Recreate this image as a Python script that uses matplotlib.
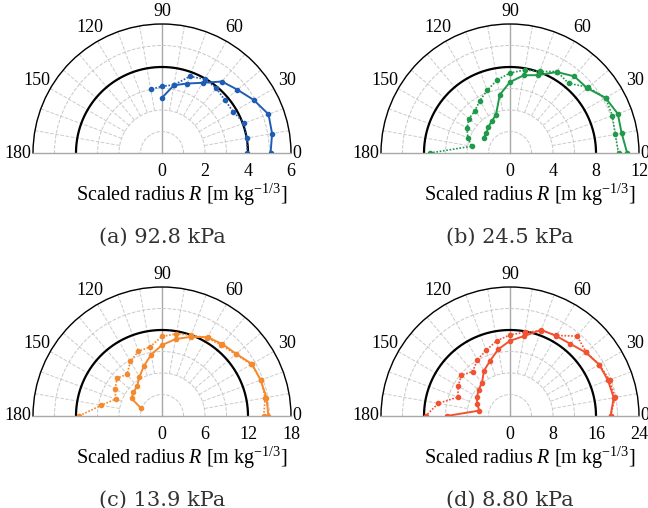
import numpy as np
import matplotlib.pyplot as plt

plt.rcParams['font.family'] = 'Liberation Serif'
plt.rcParams['mathtext.fontset'] = 'custom'
plt.rcParams['mathtext.rm'] = 'Liberation Serif'
plt.rcParams['mathtext.it'] = 'Liberation Serif:italic'

# (a) 92.8 kPa
ang_a_solid = [0, 10, 20, 30, 40, 50, 60, 70, 80, 90]
r_a_solid = [5.05, 5.2, 5.27, 4.93, 4.58, 4.34, 3.77, 3.44, 3.2, 2.57]
ang_a_dot = [0, 10, 20, 30, 40, 50, 60, 70, 80, 90, 100]
r_a_dot = [3.97, 4.0, 4.07, 3.83, 3.82, 3.93, 3.97, 3.79, 3.22, 3.1, 3.01]

# (b) 24.5 kPa
ang_b_solid = [0, 10, 20, 30, 40, 50, 60, 70, 80, 90, 100, 110, 120, 130, 140, 150]
r_b_solid = [10.9, 10.55, 10.67, 10.26, 9.38, 9.31, 8.7, 7.71, 7.34, 6.6, 5.5, 3.8, 3.4, 3.15, 2.86, 2.84]
ang_b_dot = [0, 10, 20, 30, 40, 50, 60, 70, 80, 90, 100, 110, 120, 130, 140, 150, 160, 170, 180]
r_b_dot = [10.1, 9.93, 10.14, 10.26, 9.5, 8.47, 8.75, 8.07, 7.85, 7.44, 6.9, 6.2, 5.62, 5.1, 4.98, 4.62, 4.17, 3.62, 7.45]

# (c) 13.9 kPa
ang_c_solid = [0, 10, 20, 30, 40, 50, 60, 70, 80, 90, 100, 110, 120, 130, 140, 150, 160]
r_c_solid = [14.85, 14.8, 14.65, 14.5, 13.5, 13.1, 12.7, 11.75, 10.9, 9.9, 8.7, 7.4, 6.3, 5.4, 5.2, 4.9, 3.1]
ang_c_dot = [0, 10, 20, 30, 40, 50, 60, 70, 80, 90, 100, 110, 120, 130, 140, 150, 160, 170, 180]
r_c_dot = [14.2, 14.6, 14.7, 14.4, 13.4, 12.9, 12.6, 12.0, 11.65, 11.1, 9.78, 9.6, 8.8, 7.6, 8.2, 7.55, 6.9, 8.6, 11.6]

# (d) 8.80 kPa
ang_d_solid = [0, 10, 20, 30, 40, 50, 60, 70, 80, 90, 100, 110, 120, 130, 140, 150, 160, 170, 180]
r_d_solid = [18.7, 19.6, 19.4, 19.15, 18.4, 17.5, 17.2, 17.05, 15.1, 14.0, 12.6, 10.9, 9.7, 8.1, 7.6, 7.1, 6.5, 5.8, 11.8]
ang_d_dot = [0, 10, 20, 30, 40, 50, 60, 70, 80, 90, 100, 110, 120, 130, 140, 150, 160, 170, 180]
r_d_dot = [18.7, 19.85, 19.7, 19.15, 18.5, 19.4, 17.3, 16.9, 15.8, 15.1, 14.2, 13.0, 12.1, 10.8, 11.8, 11.15, 10.3, 13.55, 15.7]

captions = ['(a) 92.8 kPa', '(b) 24.5 kPa', '(c) 13.9 kPa', '(d) 8.80 kPa']
r_max = [6, 12, 18, 24]
r_ref = [4, 8, 12, 16]
colors = ['#1f5db5', '#1f9a4a', '#f5892e', '#f05232']
theta_labels = [0, 30, 60, 90, 120, 150, 180]

W, H = 648, 508
fig = plt.figure(figsize=(W / 100, H / 100), dpi=100)

centers = [(162, 153), (510, 153), (162, 416), (510, 416)]
rad = 129

panels = [(ang_a_solid, r_a_solid, ang_a_dot, r_a_dot),
          (ang_b_solid, r_b_solid, ang_b_dot, r_b_dot),
          (ang_c_solid, r_c_solid, ang_c_dot, r_c_dot),
          (ang_d_solid, r_d_solid, ang_d_dot, r_d_dot)]

for i, (a1, r1, a2, r2) in enumerate(panels):
    cx, cy = centers[i]
    # polar axes is squared; half disc sits in the middle of the square
    up = H - cy
    ax = fig.add_axes([(cx - rad) / W, (up - rad / 2) / H, 2 * rad / W, 2 * rad / H],
                      projection='polar')
    ax.set_thetamin(0)
    ax.set_thetamax(180)
    rm = r_max[i]
    ax.set_ylim(0, rm)

    # radial ticks / grid circles
    step = rm / 6
    rt = [step * k for k in range(7)]
    ax.set_yticks(rt)
    ax.set_yticklabels(['%g' % t if k % 2 == 0 else '' for k, t in enumerate(rt)])
    ax.yaxis.grid(True, color='#c8c8c8', linestyle='--', linewidth=0.7)
    ax.tick_params(axis='y', direction='out', length=5, width=0.8, color='#555555',
                   labelsize=13, pad=2)

    # angular ticks, labels placed by hand a bit further out
    th = np.arange(0, 181, 10)
    ax.set_xticks(np.deg2rad(th))
    ax.set_xticklabels([])
    ax.xaxis.grid(False)
    ax.tick_params(axis='x', direction='in', length=13, width=0.8, color='black')
    for t in theta_labels:
        if t == 0:
            ax.text(0, rm * 1.012, '0', ha='left', va='center', fontsize=13,
                    clip_on=False)
        elif t == 180:
            ax.text(np.pi, rm * 1.012, '180', ha='right', va='center', fontsize=13,
                    clip_on=False)
        else:
            ax.text(np.deg2rad(t), rm * (1.095 if t == 90 else 1.12), str(t),
                    ha='center', va='center', fontsize=13, clip_on=False)

    for s in ['start', 'end']:
        ax.spines[s].set_color('#a8a8a8')
        ax.spines[s].set_linewidth(1.0)
    ax.spines['polar'].set_linewidth(1.0)

    # radial dashed grid lines
    for t in th[1:-1]:
        if t == 90:
            ax.plot([np.deg2rad(t)] * 2, [0, rm], color='#a8a8a8', lw=1.0, zorder=1)
        else:
            ax.plot([np.deg2rad(t)] * 2, [rm / 3, rm], color='#cccccc', lw=0.7,
                    ls='--', zorder=1)

    # reference circle
    tt = np.linspace(0, np.pi, 200)
    ax.plot(tt, np.full_like(tt, r_ref[i]), color='black', lw=1.6, zorder=2)

    c = colors[i]
    ax.plot(np.deg2rad(a2), r2, color=c, lw=1.2, ls=(0, (1, 1)), marker='o',
            ms=3, zorder=3)
    ax.plot(np.deg2rad(a1), r1, color=c, lw=1.4, ls='-', marker='o',
            ms=3, zorder=4)

    fig.text((cx + 20) / W, 1 - (cy + 42) / H,
             r'Scaled radius $R$ [m kg$^{-1/3}$]', ha='center', va='center',
             fontsize=14.5)
    fig.text(cx / W, 1 - (cy + 84) / H, captions[i], ha='center', va='center',
             fontsize=15, color='#333333', family='DejaVu Serif')

fig.savefig('out.png', dpi=100)
